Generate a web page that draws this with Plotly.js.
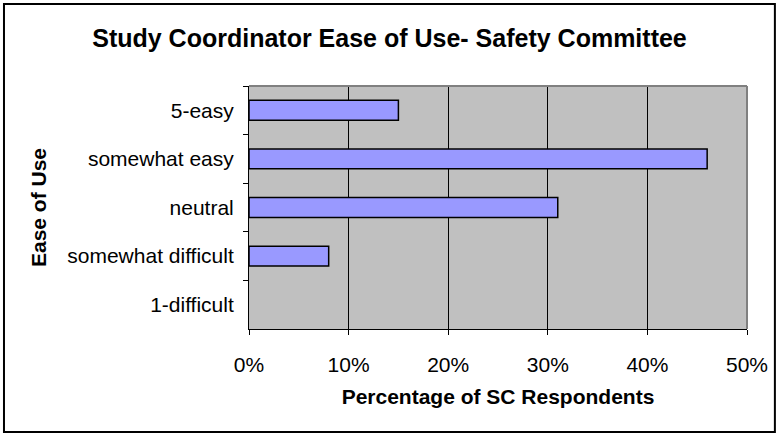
<!DOCTYPE html>
<html>
<head>
<meta charset="utf-8">
<script src="https://cdn.plot.ly/plotly-3.0.1.min.js"></script>
<style>
  body { margin: 0; padding: 0; background: #ffffff; }
  #bar_chart_div { width: 779px; height: 435px; }
</style>
</head>
<body>
<div id="bar_chart_div"></div>
<script>
// Ease of use categories, top to bottom as drawn
var ease_categories = ['5-easy', 'somewhat easy', 'neutral', 'somewhat difficult', '1-difficult'];
// share of SC respondents per category
var respondent_share = [0.15, 0.46, 0.31, 0.08, 0.0];
var x_tick_values = [0, 0.1, 0.2, 0.3, 0.4, 0.5];
var chart_title = 'Study Coordinator Ease of Use- Safety Committee';


function create_bar_trace(categories, values)
{
    // empty categories get no outline, like the original (no sliver at 0%)
    var outline_widths = values.map(function (v) { return v > 0 ? 1.5 : 0; });

    var bar_trace = {
        type: 'bar',
        orientation: 'h',
        x: values,
        y: categories,
        marker:
        {
            color: '#9999ff',
            line: {
                color: '#000000',
                width: outline_widths
            }
        },
        hoverinfo: 'x+y'
    };

    return bar_trace;
}


function create_layout(title, categories)
{
    var base_font = 'Liberation Sans, Arial, sans-serif';

    var layout = {
        width: 779,
        height: 435,
        margin: {l: 249, r: 32, t: 86, b: 106},
        paper_bgcolor: '#ffffff',
        plot_bgcolor: '#c0c0c0',
        showlegend: false,
        bargap: 0.59,
        font: {family: base_font, color: '#000000'},
        title:
        {
            text: '<b>' + title + '</b>',
            font: {size: 25, family: base_font, color: '#000000'},
            x: 0.5,
            xref: 'container',
            xanchor: 'center',
            y: 1 - 38 / 435,
            yanchor: 'middle'
        },
        xaxis:
        {
            title: {
                text: '<b>Percentage of SC Respondents</b>',
                font: {size: 21},
                standoff: 14
            },
            range: [0, 0.5],
            tickvals: x_tick_values,
            tickformat: '.0%',
            tickfont: {size: 21},
            ticks: 'outside',
            ticklen: 5,
            tickcolor: '#000000',
            ticklabelstandoff: 12,
            showgrid: true,
            gridcolor: '#000000',
            gridwidth: 1,
            showline: true,
            linecolor: '#000000',
            linewidth: 1,
            zeroline: false,
            fixedrange: true
        },
        yaxis:
        {
            title: {
                text: '<b>Ease of Use</b>',
                font: {size: 21},
                standoff: 14
            },
            type: 'category',
            categoryorder: 'array',
            categoryarray: categories,
            autorange: 'reversed',
            tickfont: {size: 21},
            ticks: 'outside',
            tickson: 'boundaries',
            ticklen: 5,
            tickcolor: '#000000',
            ticklabelstandoff: 10,
            showgrid: false,
            showline: true,
            linecolor: '#000000',
            linewidth: 1,
            zeroline: false,
            fixedrange: true
        },
        shapes: [
            // grey top and right edges of the plot area
            {
                type: 'line', xref: 'paper', yref: 'paper',
                x0: 0, y0: 1, x1: 1, y1: 1,
                line: {color: '#808080', width: 2}
            },
            {
                type: 'line', xref: 'paper', yref: 'paper',
                x0: 1, y0: 0, x1: 1, y1: 1,
                line: {color: '#808080', width: 2}
            },
            // outer chart frame
            {
                type: 'rect', xref: 'paper', yref: 'paper',
                x0: -0.492, y0: -0.424, x1: 1.056, y1: 1.337,
                line: {color: '#000000', width: 2},
                layer: 'above'
            }
        ]
    };

    return layout;
}


function plot_bar_chart(categories, values, title)
{
    var bar_trace = create_bar_trace(categories, values);
    var layout = create_layout(title, categories);
    Plotly.newPlot('bar_chart_div', [bar_trace], layout, {displayModeBar: false, staticPlot: true});
}

plot_bar_chart(ease_categories, respondent_share, chart_title);
</script>
</body>
</html>
